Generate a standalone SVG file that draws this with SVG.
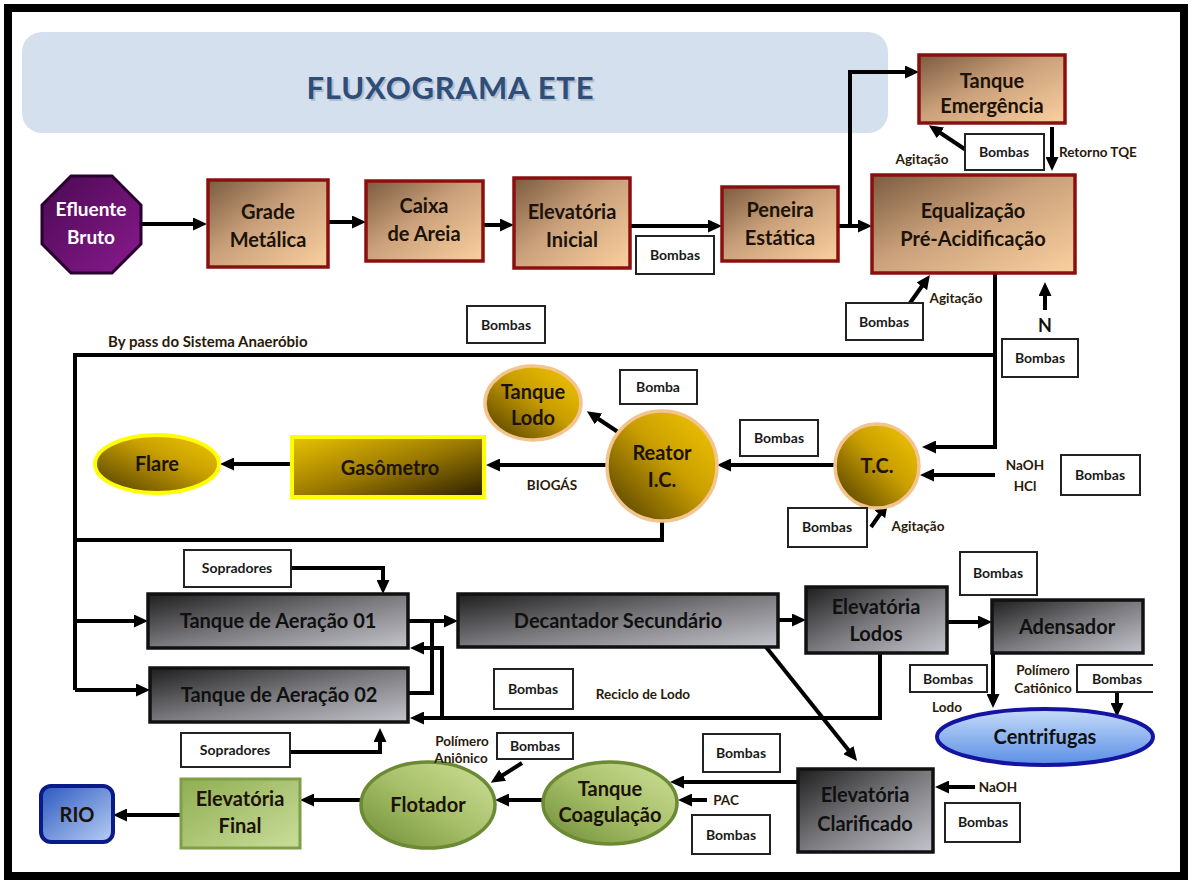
<svg xmlns="http://www.w3.org/2000/svg" width="1192" height="884" viewBox="0 0 1192 884">
<defs>
<style>
text{font-family:Lato,"Open Sans","Liberation Sans",sans-serif;font-weight:bold;text-anchor:middle}
.t{font-size:20px;fill:#1c1208}
.tw{font-size:19px;fill:#fff}
.tg{font-size:20px;fill:#101010}
.s{font-size:14px;fill:#1a1a1a}
.l{font-size:13.5px;fill:#2a1a0a}
.box{fill:#fff;stroke:#222;stroke-width:2}
.tan{fill:url(#gTan);stroke:#8a1010;stroke-width:3.5}
.gray{fill:url(#gGray);stroke:#111;stroke-width:3.5}
.gold{fill:url(#gGold);stroke:#f3c48e;stroke-width:3.5}
.green{fill:url(#gGreen);stroke:#6b8a34;stroke-width:3.5}
.c{fill:none;stroke:#000;stroke-width:4}
.a{fill:none;stroke:#000;stroke-width:4;marker-end:url(#ah)}
</style>
<linearGradient id="gTan" x1="0" y1="0" x2="1" y2="1">
<stop offset="0" stop-color="#7b5b40"/><stop offset="0.45" stop-color="#c9a07a"/><stop offset="1" stop-color="#fbd0a0"/>
</linearGradient>
<linearGradient id="gGray" x1="0" y1="0" x2="1" y2="1">
<stop offset="0" stop-color="#1e1e1e"/><stop offset="0.5" stop-color="#7a7a7e"/><stop offset="1" stop-color="#c4c4cc"/>
</linearGradient>
<linearGradient id="gGold" x1="1" y1="0" x2="0" y2="1">
<stop offset="0" stop-color="#f5c800"/><stop offset="0.45" stop-color="#c99e00"/><stop offset="1" stop-color="#4a3800"/>
</linearGradient>
<linearGradient id="gGas" x1="0" y1="0" x2="1" y2="1">
<stop offset="0" stop-color="#e9c300"/><stop offset="0.5" stop-color="#9c7a00"/><stop offset="1" stop-color="#2a1e00"/>
</linearGradient>
<linearGradient id="gFlare" x1="0" y1="1" x2="1" y2="0">
<stop offset="0" stop-color="#4a3800"/><stop offset="0.6" stop-color="#c9a000"/><stop offset="1" stop-color="#f0c800"/>
</linearGradient>
<linearGradient id="gGreen" x1="1" y1="0" x2="0" y2="1">
<stop offset="0" stop-color="#cfe09a"/><stop offset="0.5" stop-color="#a6bf68"/><stop offset="1" stop-color="#6e8d36"/>
</linearGradient>
<linearGradient id="gGreenR" x1="0" y1="0" x2="1" y2="1">
<stop offset="0" stop-color="#8fae52"/><stop offset="1" stop-color="#cadd9a"/>
</linearGradient>
<linearGradient id="gPurple" x1="0" y1="0" x2="1" y2="1">
<stop offset="0" stop-color="#4a0a52"/><stop offset="1" stop-color="#8a1a8e"/>
</linearGradient>
<linearGradient id="gRio" x1="0" y1="0" x2="1" y2="1">
<stop offset="0" stop-color="#2c58c0"/><stop offset="1" stop-color="#b8d0f4"/>
</linearGradient>
<linearGradient id="gCent" x1="0" y1="1" x2="0" y2="0">
<stop offset="0" stop-color="#5a8ee6"/><stop offset="1" stop-color="#c6dcf8"/>
</linearGradient>
<marker id="ah" markerUnits="userSpaceOnUse" markerWidth="15" markerHeight="13" refX="9" refY="6.5" orient="auto">
<path d="M0,0 L14,6.5 L0,13 z" fill="#000"/>
</marker>
</defs>
<rect x="0" y="0" width="1192" height="884" fill="#fff"/>
<rect x="8" y="8" width="1176" height="868" fill="none" stroke="#000" stroke-width="8"/>

<g id="title">
<rect x="22" y="32" width="866" height="101" rx="20" fill="#d5e0ee"/>
<text x="452" y="101" font-size="31" fill="#9aa8ba" textLength="287" opacity="0.6">FLUXOGRAMA ETE</text>
<text x="450" y="99" font-size="31" fill="#2e4d78" textLength="287">FLUXOGRAMA ETE</text>
</g>

<g id="connectors">
<path class="a" d="M141,224 L202,224"/>
<path class="a" d="M328,222 L361,222"/>
<path class="a" d="M483,225 L509,225"/>
<path class="a" d="M630,226 L717,226"/>
<path class="a" d="M838,226 L867,226"/>
<path class="a" d="M850,226 L850,72 L914,72"/>
<path class="a" d="M966,150 L933,128"/>
<path class="a" d="M1052,127 L1052,166"/>
<path class="a" d="M910,303 L927,279"/>
<path class="a" d="M1045,310 L1045,287"/>
<path class="a" d="M995,273 L995,447 L927,447"/>
<path class="c" d="M995,355 L75,355 L75,690"/>
<path class="a" d="M75,621 L143,621"/>
<path class="a" d="M75,690 L145,690"/>
<path class="c" d="M75,540 L662,540 L662,520"/>
<path class="a" d="M995,475 L925,475"/>
<path class="a" d="M835,465 L722,465"/>
<path class="a" d="M618,432 L591,414"/>
<path class="a" d="M607,465 L491,465"/>
<path class="a" d="M292,464 L225,464"/>
<path class="a" d="M871,527 L885,507"/>
<path class="a" d="M291,568 L383,568 L383,589"/>
<path class="a" d="M290,752 L380,752 L380,733"/>
<path class="a" d="M408,621 L453,621"/>
<path class="c" d="M408,693 L432,693 L432,619"/>
<path class="a" d="M880,653 L880,718 L415,718"/>
<path class="a" d="M442,718 L442,648 L415,648"/>
<path class="a" d="M778,620 L801,620"/>
<path class="a" d="M947,622 L987,622"/>
<path class="a" d="M993,653 L993,703"/>
<path class="a" d="M1117,692 L1117,712"/>
<path class="a" d="M766,647 L854,757"/>
<path class="a" d="M975,787 L940,787"/>
<path class="a" d="M798,782 L675,782"/>
<path class="a" d="M707,800 L683,800"/>
<path class="a" d="M543,800 L500,800"/>
<path class="a" d="M522,763 L495,780"/>
<path class="a" d="M362,800 L305,800"/>
<path class="a" d="M181,815 L118,815"/>
</g>

<g id="efluente-bruto">
<polygon points="71,176 112,176 141,205 141,244 112,273 71,273 42,244 42,205" fill="url(#gPurple)" stroke="#2a0030" stroke-width="3"/>
<text class="tw" x="91" y="216">Efluente</text>
<text class="tw" x="91" y="244">Bruto</text>
</g>
<g id="grade-metalica">
<rect class="tan" x="208" y="180" width="120" height="87"/>
<text class="t" x="268" y="219">Grade</text>
<text class="t" x="268" y="247">Metálica</text>
</g>
<g id="caixa-areia">
<rect class="tan" x="366" y="181" width="117" height="80"/>
<text class="t" x="424" y="213">Caixa</text>
<text class="t" x="424" y="241">de Areia</text>
</g>
<g id="elevatoria-inicial">
<rect class="tan" x="514" y="178" width="116" height="90"/>
<text class="t" x="572" y="219">Elevatória</text>
<text class="t" x="572" y="247">Inicial</text>
</g>
<g id="bombas-1"><rect class="box" x="636" y="236" width="78" height="38"/><text class="s" x="675" y="260">Bombas</text></g>
<g id="peneira-estatica">
<rect class="tan" x="722" y="187" width="116" height="74"/>
<text class="t" x="780" y="217">Peneira</text>
<text class="t" x="780" y="245">Estática</text>
</g>
<g id="tanque-emergencia">
<rect class="tan" x="919" y="55" width="146" height="68"/>
<text class="t" x="992" y="88">Tanque</text>
<text class="t" x="992" y="113">Emergência</text>
</g>
<g id="bombas-tqe"><rect class="box" x="965" y="134" width="79" height="36"/><text class="s" x="1004" y="157">Bombas</text></g>
<text class="l" x="922" y="164">Agitação</text>
<text class="l" x="1059" y="157" style="text-anchor:start">Retorno TQE</text>
<g id="equalizacao">
<rect class="tan" x="872" y="175" width="203" height="98"/>
<text class="t" x="973" y="218">Equalização</text>
<text class="t" x="973" y="246">Pré-Acidificação</text>
</g>
<g id="bombas-eq"><rect class="box" x="846" y="303" width="77" height="37"/><text class="s" x="884" y="327">Bombas</text></g>
<text class="l" x="956" y="303">Agitação</text>
<text x="1045" y="332" font-size="18" fill="#111">N</text>
<g id="bombas-n"><rect class="box" x="1002" y="339" width="76" height="38"/><text class="s" x="1040" y="363">Bombas</text></g>
<g id="bombas-mid"><rect class="box" x="467" y="306" width="78" height="37"/><text class="s" x="506" y="330">Bombas</text></g>
<text class="l" x="108" y="347" style="text-anchor:start;font-size:15px">By pass do Sistema Anaeróbio</text>

<g id="tanque-lodo">
<ellipse class="gold" cx="533" cy="403" rx="48" ry="37"/>
<text class="t" x="533" y="399">Tanque</text>
<text class="t" x="533" y="425">Lodo</text>
</g>
<g id="bomba-reator"><rect class="box" x="620" y="370" width="77" height="34"/><text class="s" x="658" y="392">Bomba</text></g>
<g id="reator-ic">
<circle class="gold" cx="662" cy="466" r="55"/>
<text class="t" x="662" y="460">Reator</text>
<text class="t" x="662" y="487">I.C.</text>
</g>
<g id="gasometro">
<rect x="292" y="437" width="192" height="60" fill="url(#gGas)" stroke="#ffff00" stroke-width="4"/>
<text class="t" x="390" y="475">Gasômetro</text>
</g>
<text class="l" x="552" y="490">BIOGÁS</text>
<g id="flare">
<ellipse cx="157" cy="464" rx="62" ry="29" fill="url(#gFlare)" stroke="#ffff00" stroke-width="4"/>
<text class="t" x="157" y="471">Flare</text>
</g>
<g id="tc">
<circle class="gold" cx="877" cy="466" r="42"/>
<text class="t" x="877" y="473">T.C.</text>
</g>
<g id="bombas-reator"><rect class="box" x="740" y="420" width="78" height="36"/><text class="s" x="779" y="443">Bombas</text></g>
<text class="l" x="1025" y="470">NaOH</text>
<text class="l" x="1025" y="491">HCl</text>
<g id="bombas-naoh"><rect class="box" x="1061" y="455" width="79" height="40"/><text class="s" x="1100" y="480">Bombas</text></g>
<g id="bombas-tc"><rect class="box" x="788" y="508" width="79" height="39"/><text class="s" x="827" y="532">Bombas</text></g>
<text class="l" x="918" y="531">Agitação</text>

<g id="sopradores-1"><rect class="box" x="184" y="550" width="107" height="37"/><text class="s" x="237" y="573">Sopradores</text></g>
<g id="aeracao-01">
<rect class="gray" x="148" y="594" width="260" height="54"/>
<text class="tg" x="278" y="628">Tanque de Aeração 01</text>
</g>
<g id="aeracao-02">
<rect class="gray" x="150" y="668" width="258" height="54"/>
<text class="tg" x="279" y="702">Tanque de Aeração 02</text>
</g>
<g id="sopradores-2"><rect class="box" x="181" y="733" width="109" height="34"/><text class="s" x="235" y="755">Sopradores</text></g>
<g id="decantador">
<rect class="gray" x="458" y="594" width="320" height="53"/>
<text class="tg" x="618" y="628">Decantador Secundário</text>
</g>
<g id="bombas-reciclo"><rect class="box" x="494" y="669" width="79" height="40"/><text class="s" x="533" y="694">Bombas</text></g>
<text class="l" x="643" y="699">Reciclo de Lodo</text>
<g id="elevatoria-lodos">
<rect class="gray" x="806" y="587" width="141" height="66"/>
<text class="tg" x="876" y="614">Elevatória</text>
<text class="tg" x="876" y="641">Lodos</text>
</g>
<g id="bombas-lodos"><rect class="box" x="960" y="552" width="77" height="43"/><text class="s" x="998" y="578">Bombas</text></g>
<g id="adensador">
<rect class="gray" x="992" y="600" width="151" height="53"/>
<text class="tg" x="1067" y="634">Adensador</text>
</g>
<g id="centrifugas">
<ellipse cx="1045" cy="737" rx="108" ry="28" fill="url(#gCent)" stroke="#1414a0" stroke-width="4"/>
<text class="tg" x="1045" y="744" fill="#0d0d30">Centrifugas</text>
</g>
<g id="bombas-aden"><rect class="box" x="910" y="665" width="77" height="27"/><text class="s" x="948" y="684">Bombas</text></g>
<text class="l" x="947" y="712">Lodo</text>
<text class="l" x="1043" y="675">Polímero</text>
<text class="l" x="1043" y="693">Catiônico</text>
<g id="bombas-cat"><path d="M1153,665 L1077,665 L1077,692 L1153,692" fill="#fff" stroke="#222" stroke-width="2"/><text class="s" x="1117" y="684">Bombas</text></g>
<g id="elevatoria-clarificado">
<rect class="gray" x="798" y="769" width="135" height="83"/>
<text class="tg" x="865" y="802">Elevatória</text>
<text class="tg" x="865" y="831">Clarificado</text>
</g>
<text class="l" x="998" y="792">NaOH</text>
<g id="bombas-clar"><rect class="box" x="945" y="803" width="75" height="39"/><text class="s" x="983" y="827">Bombas</text></g>
<g id="bombas-coag1"><rect class="box" x="703" y="734" width="77" height="38"/><text class="s" x="741" y="758">Bombas</text></g>
<text class="l" x="726" y="805">PAC</text>
<g id="bombas-coag2"><rect class="box" x="692" y="815" width="78" height="39"/><text class="s" x="731" y="840">Bombas</text></g>
<g id="tanque-coagulacao">
<ellipse class="green" cx="610" cy="803" rx="67" ry="41"/>
<text class="t" x="610" y="796">Tanque</text>
<text class="t" x="610" y="822">Coagulação</text>
</g>
<g id="flotador">
<ellipse class="green" cx="428" cy="805" rx="67" ry="43"/>
<text class="t" x="428" y="812">Flotador</text>
</g>
<text class="l" x="462" y="746">Polímero</text>
<text class="l" x="461" y="763">Aniônico</text>
<g id="bombas-flot"><rect class="box" x="497" y="733" width="76" height="26"/><text class="s" x="535" y="751">Bombas</text></g>
<g id="elevatoria-final">
<rect x="181" y="779" width="119" height="69" fill="url(#gGreenR)" stroke="#7f9e48" stroke-width="3"/>
<text class="t" x="240" y="806">Elevatória</text>
<text class="t" x="240" y="833">Final</text>
</g>
<g id="rio">
<rect x="41" y="786" width="72" height="56" rx="10" fill="url(#gRio)" stroke="#0a1a88" stroke-width="4"/>
<text class="t" x="77" y="822">RIO</text>
</g>
</svg>
